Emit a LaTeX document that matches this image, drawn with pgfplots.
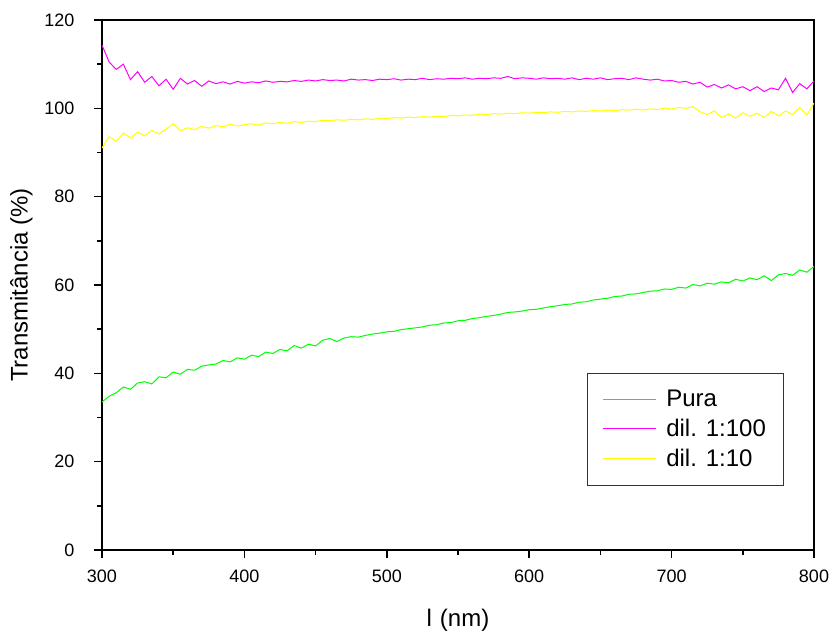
\documentclass[border=0pt]{standalone}
\usepackage{fontspec}
\setmainfont{Liberation Sans}
\usepackage{pgfplots}
\usepackage{pgfplotstable}
\pgfplotsset{compat=1.18}

\definecolor{cpura}{RGB}{0,255,0}
\definecolor{cd100}{RGB}{255,0,255}
\definecolor{cd10}{RGB}{255,255,0}

% Pura
\pgfplotstableread{
x y
300 33.5
305 34.8
310 35.6
315 36.9
320 36.4
325 37.8
330 38.1
335 37.6
340 39.2
345 39.0
350 40.3
355 39.8
360 40.9
365 40.7
370 41.6
375 41.9
380 42.1
385 42.9
390 42.6
395 43.5
400 43.2
405 44.1
410 43.8
415 44.8
420 44.5
425 45.4
430 45.1
435 46.3
440 45.7
445 46.6
450 46.2
455 47.5
460 47.9
465 47.2
470 48.0
475 48.3
480 48.2
485 48.6
490 48.9
495 49.1
500 49.4
505 49.5
510 49.9
515 50.1
520 50.3
525 50.5
530 50.9
535 51.0
540 51.4
545 51.5
550 51.9
555 52.0
560 52.4
565 52.6
570 52.9
575 53.1
580 53.4
585 53.8
590 53.9
595 54.1
600 54.4
605 54.5
610 54.8
615 55.1
620 55.3
625 55.6
630 55.7
635 56.1
640 56.2
645 56.6
650 56.8
655 57.0
660 57.4
665 57.5
670 57.9
675 58.0
680 58.3
685 58.6
690 58.7
695 59.1
700 59.0
705 59.5
710 59.3
715 60.1
720 59.8
725 60.4
730 60.2
735 60.7
740 60.5
745 61.3
750 60.9
755 61.6
760 61.2
765 62.1
770 61.0
775 62.3
780 62.6
785 62.2
790 63.4
795 62.9
800 64.2
}\pura

% dil. 1:100
\pgfplotstableread{
x y
300 114.3
305 110.5
310 108.8
315 110.0
320 106.5
325 108.3
330 105.9
335 107.2
340 105.1
345 106.6
350 104.3
355 106.8
360 105.5
365 106.3
370 105.0
375 106.2
380 105.6
385 106.0
390 105.5
395 106.1
400 105.7
405 106.0
410 105.8
415 106.2
420 105.9
425 106.1
430 106.0
435 106.3
440 106.1
445 106.4
450 106.2
455 106.5
460 106.3
465 106.4
470 106.2
475 106.6
480 106.4
485 106.5
490 106.3
495 106.6
500 106.5
505 106.7
510 106.4
515 106.6
520 106.5
525 106.8
530 106.5
535 106.7
540 106.6
545 106.8
550 106.7
555 106.9
560 106.6
565 106.8
570 106.7
575 106.9
580 106.8
585 107.2
590 106.7
595 106.9
600 106.8
605 106.6
610 106.9
615 106.7
620 106.8
625 106.6
630 106.9
635 106.5
640 106.8
645 106.6
650 106.9
655 106.5
660 106.7
665 106.8
670 106.5
675 106.9
680 106.6
685 106.4
690 106.6
695 106.2
700 106.3
705 105.9
710 106.1
715 105.5
720 105.9
725 104.8
730 105.4
735 104.6
740 105.3
745 104.4
750 104.9
755 104.0
760 104.9
765 103.8
770 104.6
775 104.2
780 106.8
785 103.6
790 105.6
795 104.4
800 106.2
}\dilcem

% dil. 1:10
\pgfplotstableread{
x y
300 91.0
305 93.6
310 92.5
315 94.4
320 93.3
325 94.6
330 93.8
335 95.0
340 94.2
345 95.3
350 96.5
355 94.9
360 95.6
365 95.2
370 95.9
375 95.5
380 96.1
385 95.8
390 96.4
395 96.0
400 96.3
405 96.5
410 96.2
415 96.7
420 96.5
425 96.8
430 96.6
435 97.0
440 96.8
445 97.1
450 97.0
455 97.3
460 97.2
465 97.4
470 97.3
475 97.5
480 97.4
485 97.6
490 97.5
495 97.8
500 97.7
505 97.9
510 97.8
515 98.0
520 97.9
525 98.1
530 98.0
535 98.2
540 98.1
545 98.4
550 98.3
555 98.5
560 98.4
565 98.7
570 98.6
575 98.8
580 98.7
585 98.9
590 98.8
595 99.0
600 98.9
605 99.1
610 99.0
615 99.2
620 99.1
625 99.3
630 99.2
635 99.4
640 99.3
645 99.5
650 99.4
655 99.6
660 99.5
665 99.7
670 99.6
675 99.8
680 99.6
685 99.9
690 99.7
695 100.1
700 99.8
705 100.2
710 100.0
715 100.4
720 99.2
725 98.6
730 99.4
735 97.9
740 98.7
745 97.8
750 99.0
755 98.2
760 98.9
765 97.9
770 99.3
775 98.3
780 99.4
785 98.6
790 100.2
795 98.5
800 101.2
}\dildez

\begin{document}
\begin{tikzpicture}[font=\fontsize{18}{21}\selectfont]
\begin{axis}[
    scale only axis,
    width=712pt, height=530pt,
    xmin=300, xmax=800,
    ymin=0, ymax=120,
    xtick={300,400,...,800},
    ytick={0,20,...,120},
    minor tick num=1,
    tick pos=left,
    tick align=outside,
    major tick length=8pt,
    minor tick length=5pt,
    every tick/.style={black, line width=1.5pt},
    axis line style={line width=1.6pt},
    /pgf/number format/assume math mode=true,
    /pgf/number format/1000 sep={},
    xticklabel style={yshift=-8pt},
    yticklabel style={xshift=-16pt},
    xlabel={l\,\,(nm)},
    ylabel={Transmitância (\%)},
    label style={font=\fontsize{24}{29}\selectfont},
    xlabel style={yshift=-20pt},
    ylabel style={yshift=5pt},
    legend style={
        at={(0.681,0.334)}, anchor=north west,
        draw=black!80, line width=0.8pt,
        inner xsep=15pt, inner ysep=15pt,
        row sep=7pt, column sep=8pt,
        font=\fontsize{24}{29}\selectfont,
    },
    legend cell align=left,
    legend image code/.code={\draw[#1] (0pt,0pt) -- (53pt,0pt);},
]
\addplot[cpura, line width=1pt] table {\pura};
\addlegendentry{Pura}
\addplot[cd100, line width=1pt] table {\dilcem};
\addlegendentry{dil. 1:100}
\addplot[cd10, line width=1pt] table {\dildez};
\addlegendentry{dil. 1:10}
\end{axis}
\pgfresetboundingbox
\path (current axis.south west) ++(-102pt,-80pt) coordinate (bl);
\path (current axis.north east) ++(18pt,20pt) coordinate (tr);
\path[use as bounding box] (bl) rectangle (tr);
\end{tikzpicture}
\end{document}
